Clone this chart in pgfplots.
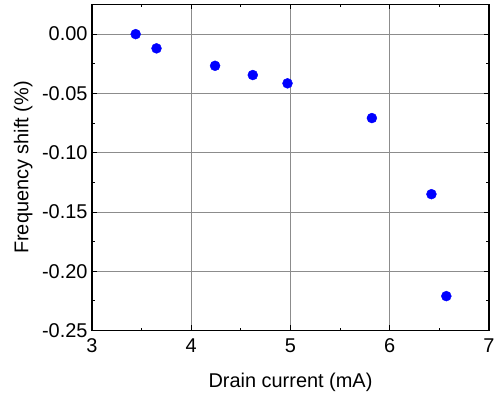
\documentclass[border=0pt]{standalone}
\usepackage{pgfplots}
\pgfplotsset{compat=1.18}
\usepackage{fontspec}
\setmainfont{Liberation Sans}
\begin{document}
\begin{tikzpicture}
\begin{axis}[
  name=ax,
  scale only axis,
  width=397bp, height=326bp,
  xmin=3, xmax=7, ymin=-0.25, ymax=0.025,
  xtick={3,4,5,6,7},
  ytick={-0.25,-0.20,-0.15,-0.10,-0.05,0},
  minor x tick num=1, minor y tick num=1,
  tick align=inside,
  major tick length=5bp, minor tick length=3bp,
  grid=major,
  major grid style={draw=black!45, line width=0.9pt},
  axis line style={line width=1.2pt},
  every tick/.style={black, line width=0.9pt},
  /pgf/number format/assume math mode=true,
  yticklabel style={/pgf/number format/fixed, /pgf/number format/fixed zerofill, /pgf/number format/precision=2, xshift=-1bp},
  ticklabel style={font=\fontsize{20}{24}\selectfont},
  xticklabel style={yshift=-4.5bp},
  label style={font=\fontsize{20}{24}\selectfont},
  xlabel={Drain current (mA)},
  ylabel={Frequency shift (\%)},
  xlabel style={at={(axis description cs:0.5,-0.176)}, anchor=base},
  ylabel style={at={(axis description cs:-0.16,0.5)}, anchor=base},
]
\addplot[only marks, mark=*, mark size=5pt, color=blue, mark options={fill=blue, draw=blue}]
coordinates {
(3.44,0.000)
(3.65,-0.012)
(4.24,-0.0267)
(4.62,-0.0345)
(4.97,-0.0415)
(5.82,-0.0708)
(6.42,-0.135)
(6.57,-0.221)
};
\end{axis}
\pgfresetboundingbox
\path[use as bounding box] ([shift={(-92bp,-65.5bp)}]ax.south west) rectangle ([shift={(6bp,4.5bp)}]ax.north east);
\end{tikzpicture}
\end{document}
